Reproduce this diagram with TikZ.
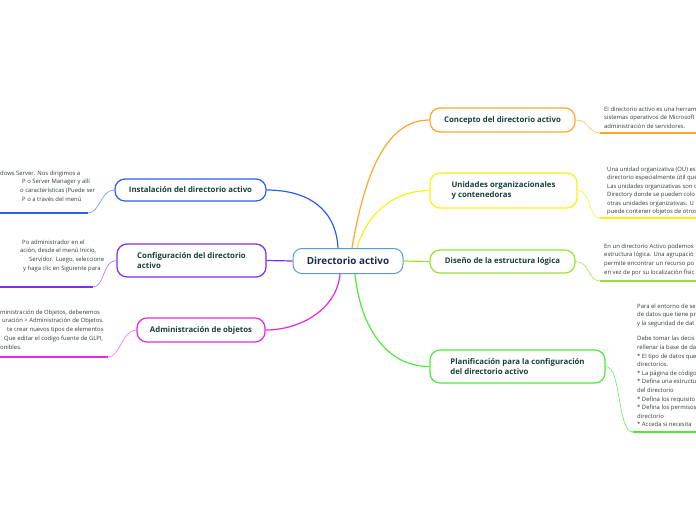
\documentclass[tikz,border=0pt]{standalone}
\usepackage{fontspec}
\setmainfont{Open Sans}
\usetikzlibrary{positioning}
\definecolor{cblue}{RGB}{91,155,213}
\definecolor{cnavy}{RGB}{28,43,75}
\definecolor{ctext}{RGB}{24,64,58}
\definecolor{cleaf}{RGB}{50,58,60}
\definecolor{corange}{RGB}{255,166,40}
\definecolor{cyellow}{RGB}{250,240,20}
\definecolor{clime}{RGB}{150,228,50}
\definecolor{cgreen}{RGB}{80,232,60}
\definecolor{cinst}{RGB}{40,95,235}
\definecolor{cpurple}{RGB}{125,45,235}
\definecolor{cmagenta}{RGB}{228,40,228}

\begin{document}
\begin{tikzpicture}[x=1pt, y=-1pt,
        central/.style={rectangle, draw=cblue, line width=1pt, rounded corners=9pt, fill=white, minimum width=110pt, minimum height=25pt, font=\fontsize{9.9}{11}\selectfont\bfseries, text=cnavy},
        branch/.style={rectangle, draw=#1, line width=1.2pt, rounded corners=10pt, fill=white, align=left, font=\fontsize{7.8}{10.5}\selectfont\bfseries, text=ctext},
        leaf/.style={align=left, font=\fontsize{5.9}{8.7}\selectfont, text=cleaf, inner sep=0pt},
        link/.style={draw=#1, line width=1.2pt},
        stem/.style={draw=#1, line width=0.7pt},
        base/.style={draw=#1, line width=1.8pt}
    ]

        \useasboundingbox (0,0) rectangle (696,520);
        \clip (0,0) rectangle (696,520);

        \node[central] (root) at (348,261) {Directorio activo};

        \node[branch=corange, minimum width=145pt, minimum height=24pt] (concept) at (502.5,120) {Concepto del directorio activo};
        \node[branch=cyellow, minimum width=147pt, minimum height=35pt] (units)   at (503.5,190.5) {Unidades organizacionales\\y contenedoras};
        \node[branch=clime,   minimum width=145pt, minimum height=23pt] (design)  at (502.5,261.5) {Diseño de la estructura lógica};
        \node[branch=cgreen,  minimum width=175pt, minimum height=33pt] (plan)    at (517.5,366.5) {Planificación para la configuración\\del directorio activo};

        \node[branch=cinst,    minimum width=151pt, minimum height=22pt] (install) at (190.5,190) {Instalación del directorio activo};
        \node[branch=cpurple,  minimum width=149pt, minimum height=33pt] (config)  at (191.5,260.5) {Configuración del directorio\\activo};
        \node[branch=cmagenta, minimum width=128pt, minimum height=24pt] (admin)   at (201,330) {Administración de objetos};

        % ramas principales
        \draw[link=cinst]    ([xshift=-10pt]root.north) .. controls +(-2,-40) and +(40,0) .. (install.east);
        \draw[link=cpurple]  (root.west) -- (config.east);
        \draw[link=cmagenta] ([xshift=-8pt]root.south) .. controls +(-3,35) and +(35,0) .. (admin.east);
        \draw[link=corange]  ([xshift=4pt]root.north) .. controls +(12,-70) and +(-45,0) .. (concept.west);
        \draw[link=cyellow]  ([xshift=9pt]root.north) .. controls +(10,-35) and +(-35,0) .. (units.west);
        \draw[link=clime]    (root.east) -- (design.west);
        \draw[link=cgreen]   ([xshift=7pt]root.south) .. controls +(5,50) and +(-45,0) .. (plan.west);

        % textos de las hojas
        \coordinate (concept_a) at (600,133);  \coordinate (concept_b) at (700,133);
        \coordinate (units_a)   at (600,218);  \coordinate (units_b)   at (700,218);
        \coordinate (design_a)  at (600,281);  \coordinate (design_b)  at (700,281);
        \coordinate (plan_a)    at (633,432);  \coordinate (plan_b)    at (700,432);
        \coordinate (install_a) at (88,213);   \coordinate (install_b) at (-4,213);
        \coordinate (config_a)  at (93,287);   \coordinate (config_b)  at (-4,287);
        \coordinate (admin_a)   at (108,357);  \coordinate (admin_b)   at (-4,357);

        \draw[stem=corange!70]  (concept.east) .. controls +(14,0) and +(-12,0) .. (concept_a);
        \draw[base=corange]     (concept_a) -- (concept_b);
        \draw[stem=cyellow!80]  (units.east) .. controls +(14,0) and +(-12,0) .. (units_a);
        \draw[base=cyellow]     (units_a) -- (units_b);
        \draw[stem=clime!80]    (design.east) .. controls +(14,0) and +(-12,0) .. (design_a);
        \draw[base=clime]       (design_a) -- (design_b);
        \draw[stem=cgreen!80]   (plan.east) .. controls +(16,0) and +(-16,0) .. (plan_a);
        \draw[base=cgreen]      (plan_a) -- (plan_b);
        \draw[stem=cinst!60]    (install.west) .. controls +(-14,0) and +(12,0) .. (install_a);
        \draw[base=cinst]       (install_a) -- (install_b);
        \draw[stem=cpurple!60]  (config.west) .. controls +(-14,0) and +(12,0) .. (config_a);
        \draw[base=cpurple]     (config_a) -- (config_b);
        \draw[stem=cmagenta!60] (admin.west) .. controls +(-14,0) and +(12,0) .. (admin_a);
        \draw[base=cmagenta]    (admin_a) -- (admin_b);

        \node[leaf, anchor=north west] (concept_txt) at (604,106.5) {El directorio activo es una herram\\sistemas operativos de Microsoft\\administración de servidores.};
        \node[leaf, anchor=north west, font=\fontsize{5.9}{8.5}\selectfont] (units_txt) at (607,166.5) {Una unidad organizativa (OU) es\\directorio especialmente útil que\\Las unidades organizativas son c\\Directory donde se pueden colo\\otras unidades organizativas. U\\puede contener objetos de otros};
        \node[leaf, anchor=north west] (design_txt) at (604,243.5) {En un directorio Activo podemos\\estructura lógica. Una agrupació\\permite encontrar un recurso po\\en vez de por su localización físic};
        \node[leaf, anchor=north west, font=\fontsize{5.9}{8.6}\selectfont] (plan_txt) at (637,303.5) {Para el entorno de se\\de datos que tiene pr\\y la seguridad de dat\\[7pt]Debe tomar las decis\\rellenar la base de da\\* El tipo de datos que\\directorios.\\* La página de código\\* Defina una estructu\\del directorio\\* Defina los requisito\\* Defina los permisos\\directorio\\* Acceda si necesita};

        \node[leaf, anchor=north west] (install_txt) at (0,170.5) {dows Server. Nos dirigimos a\\\hspace*{22pt}P o Server Manager y allí\\\hspace*{20pt}o características (Puede ser\\\hspace*{22pt}P o a través del menú};
        \node[leaf, anchor=north west] (config_txt) at (0,239.5) {\hspace*{22pt}Po administrador en el\\\hspace*{20pt}ación, desde el menú Inicio,\\\hspace*{29pt}Servidor. Luego, seleccione\\\hspace*{23pt}y haga clic en Siguiente para};
        \node[leaf, anchor=north west] (admin_txt) at (0,309.5) {ministración de Objetos, deberemos\\\hspace*{2pt}uración > Administración de Objetos.\\\hspace*{7pt}te crear nuevos tipos de elementos\\\hspace*{4pt}Que editar el codigo fuente de GLPI,\\onibles.};

    \end{tikzpicture}
\end{document}
